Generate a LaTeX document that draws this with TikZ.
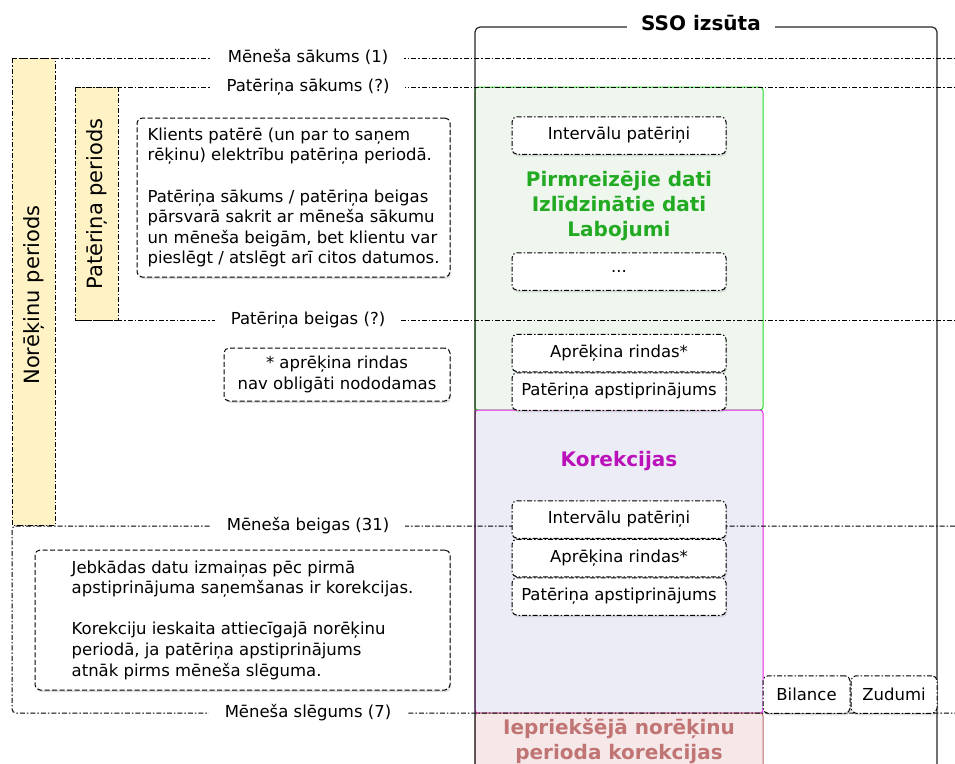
\documentclass[tikz,border=0pt]{standalone}
\usepackage{fontspec}
\setmainfont{DejaVu Sans}
\usetikzlibrary{positioning, shadows}

\definecolor{bandyellow}{HTML}{FFF2C4}
\definecolor{primline}{HTML}{22DD22}
\definecolor{primfill}{HTML}{EEF6EE}
\definecolor{primtext}{HTML}{22AA22}
\definecolor{korline}{HTML}{EE22EE}
\definecolor{korfill}{HTML}{ECECF6}
\definecolor{kortext}{HTML}{BB11BB}
\definecolor{prevline}{HTML}{B86A6A}
\definecolor{prevfill}{HTML}{F6E8E8}
\definecolor{prevtext}{HTML}{C07474}

\begin{document}
\begin{tikzpicture}[x=1pt, y=-1pt, node distance=0pt,
        txt/.style={font=\fontsize{16.5}{20.6}\selectfont},
        dashdot/.style={line width=1pt, dash pattern=on 5pt off 2pt on 1.5pt off 2pt},
        band/.style={dashdot, fill=bandyellow},
        bandtitle/.style={rotate=90, font=\fontsize{21}{24}\selectfont},
        datelabel/.style={txt, fill=white, inner xsep=16pt, inner ysep=2pt},
        area/.style={line width=1pt, rounded corners=3pt},
        note/.style={txt, draw, fill=white, rounded corners=5pt, line width=1pt, dash pattern=on 5pt off 2.5pt,
            drop shadow={opacity=0.25, shadow xshift=1pt, shadow yshift=-2pt}},
        item/.style={txt, draw, fill=white, rounded corners=5pt, dashdot, minimum width=214pt, minimum height=37.5pt, inner sep=0pt,
            drop shadow={opacity=0.25, shadow xshift=1pt, shadow yshift=-2pt}},
        heading/.style={font=\bfseries\fontsize{20}{25}\selectfont, align=center}]
        \clip (0,0) rectangle (955,763);

        % Areas in the SSO column
        \draw[area, draw=primline, fill=primfill] (475,87) rectangle (763,410);
        \draw[area, draw=korline, fill=korfill] (475,410) rectangle (763,713);
        \draw[area, draw=prevline, fill=prevfill] (475,713) rectangle (763,800);

        % SSO frame
        \draw[line width=1.2pt, draw=black!85, rounded corners=5pt] (475,800) -- (475,27) -- (937,27) -- (937,800);
        \node[font=\bfseries\fontsize{20}{24}\selectfont, fill=white, inner xsep=14pt] (sso) at (701,23) {SSO izsūta};

        % Periods
        \draw[band] (12,58) rectangle (55,525);
        \draw[band] (75,87) rectangle (118,320);
        \node[bandtitle] (norp) at (33.5,295) {Norēķinu periods};
        \node[bandtitle] (patp) at (96.5,204) {Patēriņa periods};

        % Date lines
        \draw[dashdot] (12,58) -- (955,58);
        \draw[dashdot] (75,87) -- (955,87);
        \draw[dashdot] (75,320) -- (955,320);
        \draw[dashdot, rounded corners=4pt] (955,526) -- (12,526) -- (12,713) -- (955,713);

        \node[datelabel] (msak) at (308,57) {Mēneša sākums (1)};
        \node[datelabel] (psak) at (308,87) {Patēriņa sākums (?)};
        \node[datelabel] (pbei) at (308,320) {Patēriņa beigas (?)};
        \node[datelabel] (mbei) at (308,526) {Mēneša beigas (31)};
        \node[datelabel] (mslg) at (308,713) {Mēneša slēgums (7)};

        % Headings
        \node[heading, text=primtext] (prim) at (619,206) {Pirmreizējie dati\\Izlīdzinātie dati\\Labojumi};
        \node[heading, text=kortext] (kor) at (619,461) {Korekcijas};
        \node[heading, text=prevtext] (prev) at (619,741) {Iepriekšējā norēķinu\\perioda korekcijas};

        % Data items
        \node[item] (int1) at (619,135.5) {Intervālu patēriņi};
        \node[item] (more) at (619,271.5) {...};
        \node[item] (apr1) at (619,353) {Aprēķina rindas*};
        \node[item, below=of apr1] (apst1) {Patēriņa apstiprinājums};
        \node[item] (int2) at (619,519.5) {Intervālu patēriņi};
        \node[item, below=of int2] (apr2) {Aprēķina rindas*};
        \node[item, below=of apr2] (apst2) {Patēriņa apstiprinājums};
        \node[item, minimum width=87pt] (bil) at (806.5,694.5) {Bilance};
        \node[item, minimum width=86pt, right=of bil] (zud) {Zudumi};

        % Notes
        \node[note, align=left, minimum width=313pt, minimum height=159pt] (n1) at (293.5,197.5)
            {Klients patērē (un par to saņem\\rēķinu) elektrību patēriņa periodā.\\[20.6pt]Patēriņa sākums / patēriņa beigas\\pārsvarā sakrit ar mēneša sākumu\\un mēneša beigām, bet klientu var\\pieslēgt / atslēgt arī citos datumos.};
        \node[note, align=center, minimum width=226pt, minimum height=53pt] (n2) at (337,374.5)
            {* aprēķina rindas\\nav obligāti nododamas};
        \node[note, align=left, minimum width=415pt, minimum height=140pt] (n3) at (242.5,620)
            {Jebkādas datu izmaiņas pēc pirmā\\apstiprinājuma saņemšanas ir korekcijas.\\[20.6pt]Korekciju ieskaita attiecīgajā norēķinu\\periodā, ja patēriņa apstiprinājums\\atnāk pirms mēneša slēguma.};
\end{tikzpicture}
\end{document}
